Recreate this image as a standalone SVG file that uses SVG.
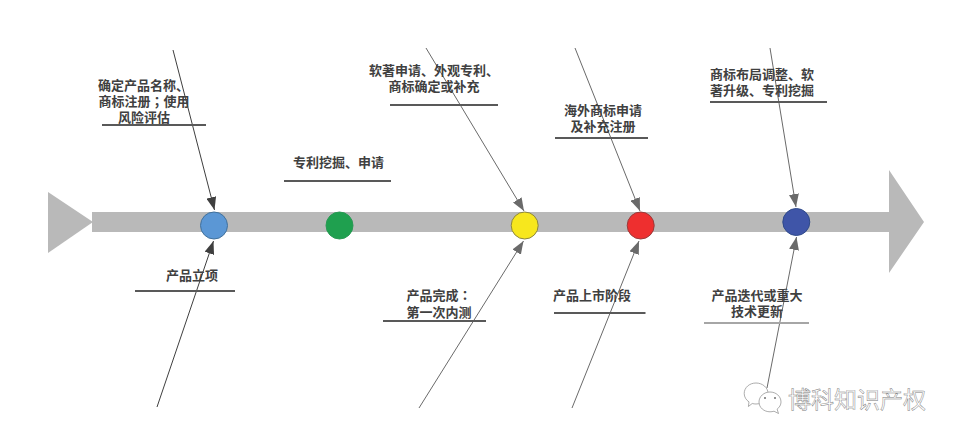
<svg xmlns="http://www.w3.org/2000/svg" width="956" height="441" viewBox="0 0 956 441">
<style>
text{font-family:"Noto Sans CJK SC","Liberation Sans",sans-serif;font-size:13px;font-weight:700;fill:#404040;text-anchor:middle;dominant-baseline:central}
.s{text-anchor:start}
.tc{font-family:"Noto Sans CJK TC",sans-serif}
.u{stroke:#595959;stroke-width:2;fill:none}
.c1{stroke:#3f3f3f;stroke-width:1;fill:none;marker-end:url(#a1)}
.c2{stroke:#6a6a6a;stroke-width:1;fill:none;marker-end:url(#a2)}
.wm{font-size:23px;font-weight:400;fill:#fff;stroke:#7a7a7a;stroke-width:.45;text-anchor:start}
.wi{fill:#fff;stroke:#8a8a8a;stroke-width:.7}
</style>
<defs>
<marker id="a1" markerUnits="userSpaceOnUse" markerWidth="14" markerHeight="10" refX="13" refY="5" orient="auto"><path d="M0 0L13 5L0 10Z" fill="#3f3f3f"/></marker>
<marker id="a2" markerUnits="userSpaceOnUse" markerWidth="14" markerHeight="10" refX="13" refY="5" orient="auto"><path d="M0 0L13 5L0 10Z" fill="#6a6a6a"/></marker>
</defs>
<rect width="956" height="441" fill="#fff"/>
<g id="spine" fill="#b9b9b9">
<path d="M48 192L93 222L48 253Z"/>
<path d="M92 212H889V170L924 222L889 273V232H92Z"/>
</g>
<g id="connectors">
<line class="c1" x1="173" y1="50" x2="214.500" y2="210"/>
<line class="c1" x1="157" y1="407" x2="213.500" y2="241"/>
<line class="c2" x1="426" y1="48" x2="524" y2="211"/>
<line class="c2" x1="419" y1="408" x2="523.500" y2="241"/>
<line class="c2" x1="575" y1="48" x2="640" y2="211"/>
<line class="c2" x1="572" y1="408" x2="639" y2="241"/>
<line class="c2" x1="770" y1="48" x2="796" y2="207"/>
<line class="c2" x1="767" y1="388" x2="796.500" y2="237"/>
</g>
<g id="node-1">
<circle cx="214" cy="225.500" r="13.500" fill="#5b97d5" stroke="#41719c"/>
<text y="83.500"><tspan class="s" x="98">确定产品名称、</tspan><tspan x="144" y="100">商标注册<tspan class="tc">；</tspan>使用</tspan><tspan x="144" y="116">风险评估</tspan></text>
<line class="u" x1="102" y1="125" x2="206" y2="125"/>
<text x="192" y="274">产品立项</text>
<line class="u" x1="135" y1="291" x2="235" y2="291"/>
</g>
<g id="node-2">
<circle cx="339.500" cy="225.500" r="13.500" fill="#1fa04f" stroke="#2a9a55"/>
<text x="338.500" y="161">专利挖掘、申请</text>
<line class="u" x1="284" y1="181" x2="391" y2="181"/>
</g>
<g id="node-3">
<circle cx="524.700" cy="225.500" r="13.500" fill="#f7e71d" stroke="#8c8640"/>
<text><tspan x="434" y="69">软著申请、外观专利、</tspan><tspan x="434" y="85">商标确定或补充</tspan></text>
<line class="u" x1="390" y1="105" x2="498" y2="105"/>
<text><tspan x="439" y="294">产品完成<tspan class="tc">：</tspan></tspan><tspan x="439" y="311">第一次内测</tspan></text>
<line class="u" x1="383" y1="321" x2="486" y2="321"/>
</g>
<g id="node-4">
<circle cx="640.700" cy="225.500" r="13.500" fill="#ee2f2f" stroke="#9a3a3a"/>
<text><tspan x="603" y="109">海外商标申请</tspan><tspan x="603" y="125">及补充注册</tspan></text>
<line class="u" x1="555" y1="138" x2="648" y2="138"/>
<text x="592" y="294">产品上市阶段</text>
<line class="u" x1="554" y1="313" x2="645.500" y2="313"/>
</g>
<g id="node-5">
<circle cx="796.300" cy="222" r="13.500" fill="#3f55a8" stroke="#2f4a8a"/>
<text class="s"><tspan x="710" y="73">商标布局调整、软</tspan><tspan x="710" y="89">著升级、专利挖掘</tspan></text>
<line class="u" x1="710" y1="102" x2="827" y2="102"/>
<text><tspan x="757" y="294">产品迭代或重大</tspan><tspan x="757" y="310">技术更新</tspan></text>
<line x1="704" y1="323" x2="809" y2="323" stroke="#a6a6a6" stroke-width="2"/>
</g>
<g id="watermark">
<path class="wi" d="M756 383c6.500 0 12 4.500 12 10.500s-5.500 10.500-12 10.500c-1.300 0-2.600-.2-3.800-.5l-3.800 3 .6-4.600c-2.800-1.800-4.800-4.900-4.800-8.400 0-6 5.300-10.500 11.800-10.500Z"/>
<path class="wi" d="M770 392c6 0 11 4.300 11 10 0 2.900-1.500 5.400-3.900 7.100l1.400 4.400-4.500-2.300c-1.300.4-2.600.6-4 .6-6 0-11-4.200-11-9.800s5-10 11-10Z"/>
<circle cx="765" cy="398" r="1" fill="#707070"/><circle cx="775" cy="398" r="1" fill="#707070"/>
<text class="wm" x="788" y="398">博科知识产权</text>
</g>
</svg>
